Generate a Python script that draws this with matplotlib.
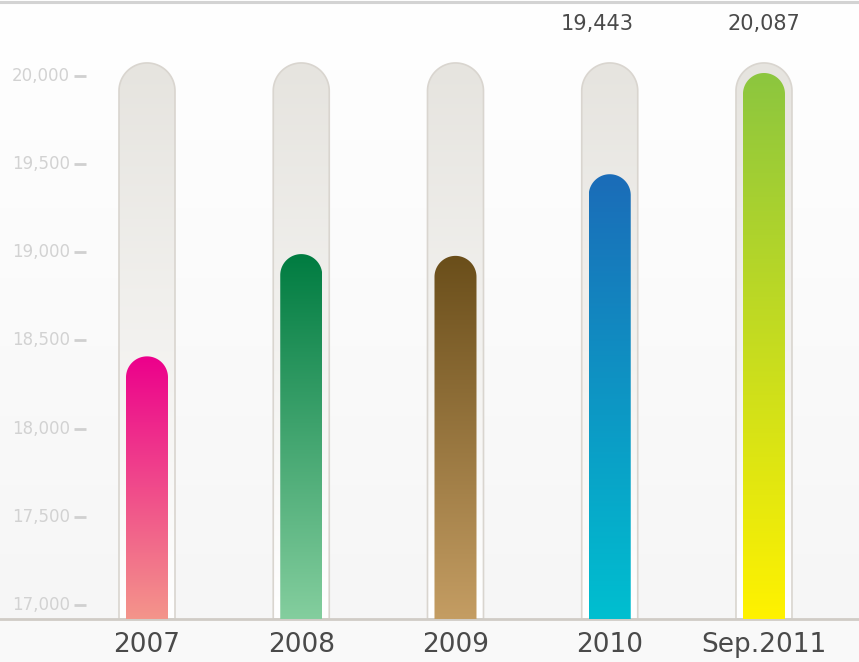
import numpy as np
import matplotlib
matplotlib.use("Agg")
import matplotlib.pyplot as plt
from matplotlib.path import Path
from matplotlib.patches import PathPatch
from matplotlib.colors import to_rgb
from matplotlib.lines import Line2D

categories = ['2007', '2008', '2009', '2010', 'Sep.2011']
values = [18410, 18990, 18980, 19443, 20087]
value_labels = ['', '', '', '19,443', '20,087']
label_shift = [0, 0, 0, -13, 0]   # px, the 2010 label sits a bit left of its bar
y_ticks = [17000, 17500, 18000, 18500, 19000, 19500, 20000]
top_colors = ['#ec008c', '#007c41', '#6a4e1a', '#1b6cb8', '#8cc63f']
bottom_colors = ['#f4958a', '#84ce9e', '#c49d63', '#00bfd0', '#fff200']

W, H = 859, 662
ymin, ymax = 16920.6, 20431
xmin, xmax = -0.953, 4.616
track_top = 20074
bar_inset = 57          # biggest bar stays inside the grey track

fig = plt.figure(figsize=(W / 100, H / 100), dpi=100)
fig.patch.set_facecolor('#f9f9f9')
ax = fig.add_axes([0, 43 / H, 1, 619 / H])
ax.set_xlim(xmin, xmax)
ax.set_ylim(ymin, ymax)

# unit conversions so rounded caps stay circular on screen
px_x = W / (xmax - xmin)
px_y = 619 / (ymax - ymin)

# background gradient
bg = np.linspace(1.0, 0.965, 256)[:, None, None] * np.ones((1, 1, 3))
ax.imshow(bg, extent=[xmin, xmax, ymin, ymax], aspect='auto', zorder=0)


def capsule(xc, width_px, top, bottom):
    w = width_px / px_x
    rx = w / 2
    ry = (width_px / 2) / px_y
    t = np.linspace(np.pi, 0, 60)
    arc = np.column_stack([xc + rx * np.cos(t), top - ry + ry * np.sin(t)])
    verts = np.vstack([[xc - rx, bottom], arc, [xc + rx, bottom], [xc - rx, bottom]])
    codes = [Path.MOVETO] + [Path.LINETO] * (len(verts) - 2) + [Path.CLOSEPOLY]
    return Path(verts, codes), w


def gradient(c_top, c_bot, n=256):
    a = np.array(to_rgb(c_top))
    b = np.array(to_rgb(c_bot))
    f = np.linspace(0, 1, n)[:, None]
    return (a * (1 - f) + b * f)[:, None, :]


for i, v in enumerate(values):
    # grey track
    path, w = capsule(i, 56, track_top, ymin)
    patch = PathPatch(path, facecolor='none', edgecolor='#d9d5cf', lw=1.2, zorder=2)
    ax.add_patch(patch)
    im = ax.imshow(gradient('#e6e4df', '#ffffff'), extent=[i - w / 2, i + w / 2, ymin, track_top],
                   aspect='auto', zorder=1)
    im.set_clip_path(patch)

    # coloured bar
    top = min(v, track_top - bar_inset)
    path, w = capsule(i, 42, top, ymin)
    patch = PathPatch(path, facecolor='none', edgecolor='none', zorder=3)
    ax.add_patch(patch)
    im = ax.imshow(gradient(top_colors[i], bottom_colors[i]), extent=[i - w / 2, i + w / 2, ymin, top],
                   aspect='auto', zorder=3)
    im.set_clip_path(patch)

    if value_labels[i]:
        ax.annotate(value_labels[i], (i, 20295), xytext=(label_shift[i], 0),
                    textcoords='offset pixels', ha='center', va='center',
                    fontsize=15, color='#4a4a4a')

ax.set_xlim(xmin, xmax)
ax.set_ylim(ymin, ymax)

# y tick labels and dashes drawn inside the plot area
ytr = ax.get_yaxis_transform()
for t in y_ticks:
    ax.text(70 / W, t, f'{t:,}', transform=ytr, ha='right', va='center',
            fontsize=12, color='#d2d2d2')
    ax.plot([74 / W, 86 / W], [t, t], transform=ytr, color='#d0d0d0', lw=2,
            solid_capstyle='butt')

ax.set_yticks([])
ax.set_xticks(range(len(categories)))
ax.set_xticklabels(categories, fontsize=19, color='#4a4a4a')
ax.tick_params(axis='x', length=0, pad=9)
for s in ['top', 'left', 'right']:
    ax.spines[s].set_visible(False)
ax.spines['bottom'].set_color('#d0ccc6')
ax.spines['bottom'].set_linewidth(2)

fig.add_artist(Line2D([0, 1], [1 - 1.5 / H, 1 - 1.5 / H], transform=fig.transFigure,
                      color='#d3d3d3', lw=2.2))

fig.savefig('out.png', dpi=100, facecolor=fig.get_facecolor())
